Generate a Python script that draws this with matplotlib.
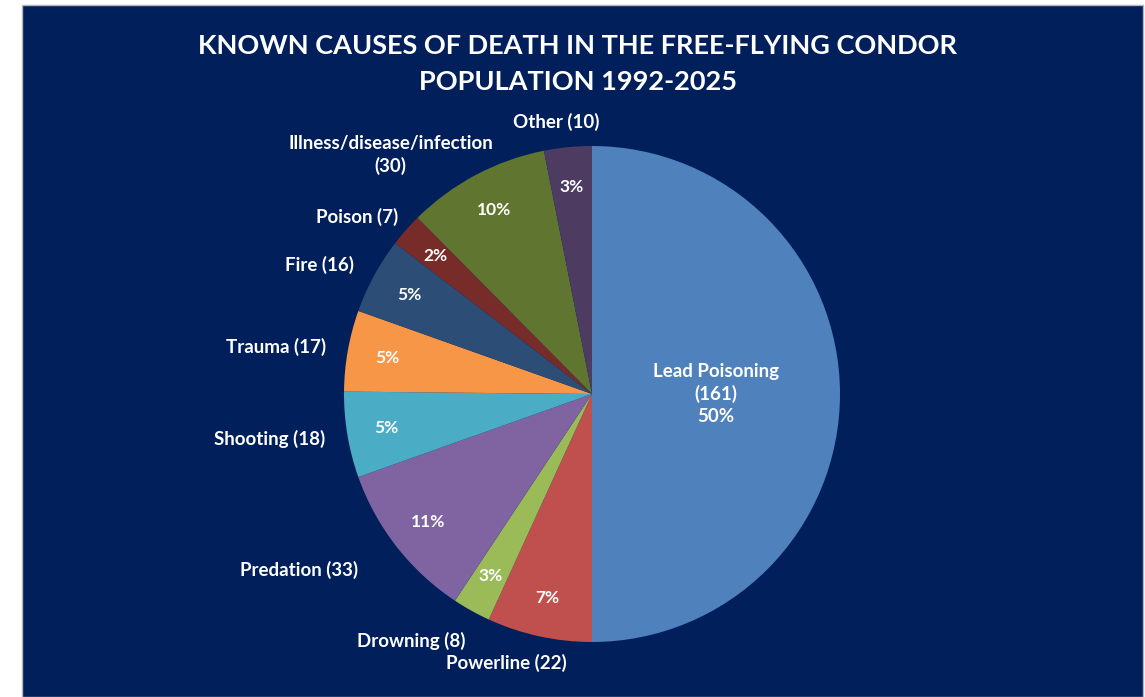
import numpy as np
import matplotlib
matplotlib.use('Agg')
import matplotlib.pyplot as plt
from matplotlib.patches import Rectangle

# Data
causes = ['Lead Poisoning', 'Powerline', 'Drowning', 'Predation', 'Shooting',
          'Trauma', 'Fire', 'Poison', 'Illness/disease/infection', 'Other']
deaths = [161, 22, 8, 33, 18, 17, 16, 7, 30, 10]
# percentages as printed on the chart
pct_labels = [50, 7, 3, 11, 5, 5, 5, 2, 10, 3]
colors = ['#4F81BD', '#C0504D', '#9BBB59', '#8064A2', '#4BACC6',
          '#F79646', '#2C4D75', '#772C2A', '#5F7530', '#4D3B62']
title = 'KNOWN CAUSES OF DEATH IN THE FREE-FLYING CONDOR\nPOPULATION 1992-2025'

# Outside label layout: radial distance (in radii), angle tweak (deg), alignment
label_dist = [0.5, 1.14, 1.12, 1.18, 1.09, 1.09, 1.09, 1.06, 1.26, 1.105]
label_dang = [0, -5.4, 2, -1, 0, 0, 0, -1, 12.2, 2]
label_ha = ['center', 'center', 'right', 'right', 'right', 'right', 'right',
            'right', 'center', 'center']

navy = '#001F5B'
W, H = 1145, 697
plt.rcParams['font.family'] = ['Lato', 'DejaVu Sans']

fig = plt.figure(figsize=(W / 100, H / 100), dpi=100, facecolor='white')
fig.patches.append(Rectangle((22 / W, 0), (1143 - 22) / W, (H - 5) / H,
                             transform=fig.transFigure, facecolor=navy,
                             edgecolor='#B0B4C0', linewidth=1, zorder=-10))

fig.text(578 / W, 1 - 64 / H, title, ha='center', va='center', color='white',
         fontsize=19.5, fontweight='bold', linespacing=1.55)

cx, cy, r = 592, 394, 248
ax = fig.add_axes([(cx - r) / W, (H - cy - r) / H, 2 * r / W, 2 * r / H])
ax.set_facecolor('none')

wedges, _ = ax.pie(deaths, colors=colors, startangle=90, counterclock=False,
                   radius=1, wedgeprops=dict(linewidth=0))
ax.set_xlim(-1, 1)
ax.set_ylim(-1, 1)
ax.set_aspect('equal')
ax.axis('off')

fs = 13.5
for i, w in enumerate(wedges):
    mid = (w.theta1 + w.theta2) / 2
    pct = '%d%%' % pct_labels[i]
    a = np.radians(mid)
    if i == 0:
        ax.text(label_dist[i] * np.cos(a), label_dist[i] * np.sin(a),
                '%s\n(%d)\n%s' % (causes[i], deaths[i], pct), ha='center',
                va='center', color='white', fontsize=fs, fontweight='bold',
                linespacing=1.35)
        continue
    ax.text(0.84 * np.cos(a), 0.84 * np.sin(a), pct, ha='center', va='center',
            color='white', fontsize=12.5, fontweight='bold')
    la = np.radians(mid + label_dang[i])
    name = causes[i]
    txt = '%s\n(%d)' % (name, deaths[i]) if i == 8 else '%s (%d)' % (name, deaths[i])
    ax.text(label_dist[i] * np.cos(la), label_dist[i] * np.sin(la), txt,
            ha=label_ha[i], va='center', color='white', fontsize=fs,
            fontweight='bold', linespacing=1.35, multialignment='center')

fig.savefig('out.png', dpi=100, facecolor='white')
